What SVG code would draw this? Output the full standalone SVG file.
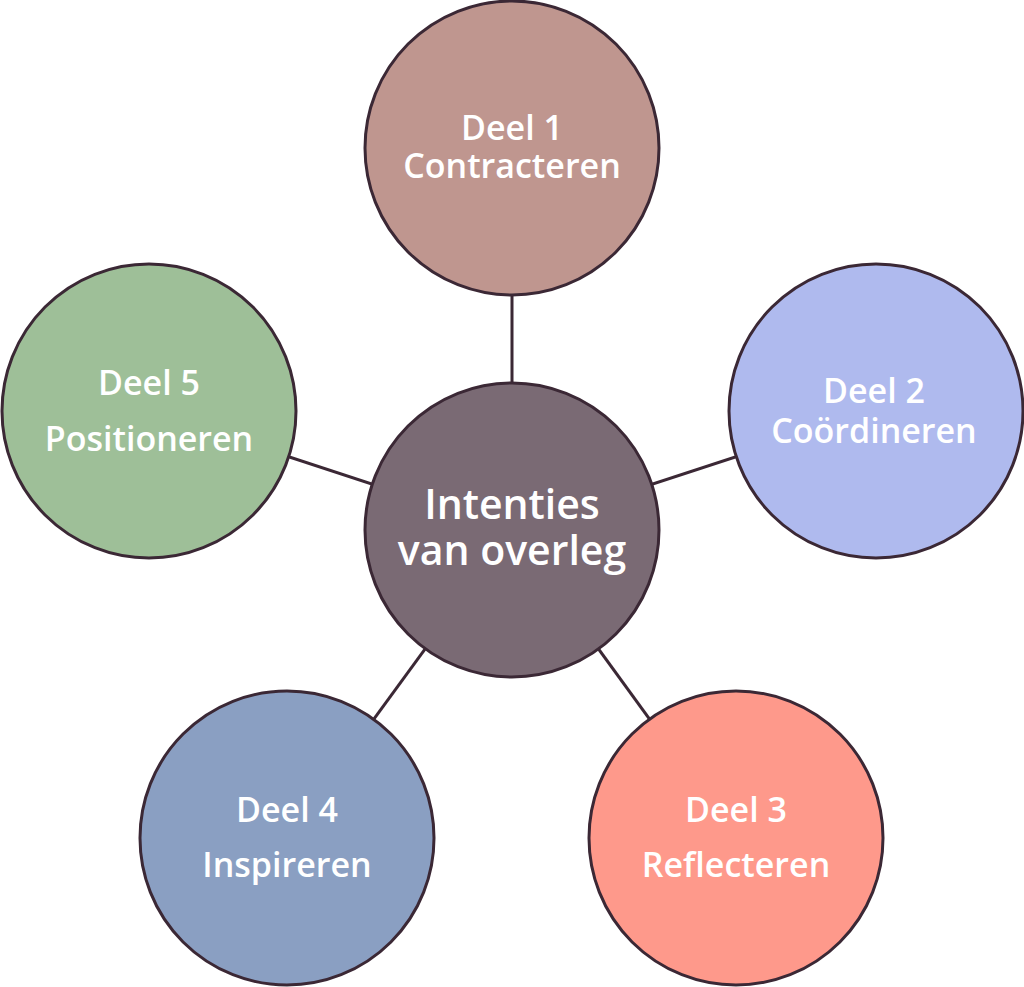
<svg xmlns="http://www.w3.org/2000/svg" width="1024" height="987" viewBox="0 0 1024 987">
<style>
.node{stroke:#3b2835;stroke-width:3}
.conn line{stroke:#3b2835;stroke-width:3}
text{font-family:"Open Sans","Noto Sans",sans-serif;font-weight:600;fill:#ffffff;text-anchor:middle;font-size:34px}
.big{font-size:41px}
</style>
<rect width="1024" height="987" fill="#ffffff"/>
<g id="connectors" class="conn">
<line x1="512" y1="530" x2="512" y2="148"/>
<line x1="512" y1="530" x2="876" y2="411"/>
<line x1="512" y1="530" x2="736" y2="838"/>
<line x1="512" y1="530" x2="287" y2="838"/>
<line x1="512" y1="530" x2="149" y2="411"/>
</g>
<g id="deel1">
<circle class="node" cx="512" cy="148" r="147" fill="#bf968f"/>
<text x="512" y="140">Deel 1</text>
<text x="512" y="178">Contracteren</text>
</g>
<g id="deel2">
<circle class="node" cx="876" cy="411" r="147" fill="#afbaee"/>
<text x="874" y="403">Deel 2</text>
<text x="874" y="443">Coördineren</text>
</g>
<g id="deel3">
<circle class="node" cx="736" cy="838" r="147" fill="#fe998b"/>
<text x="736" y="822">Deel 3</text>
<text x="736" y="877">Reflecteren</text>
</g>
<g id="deel4">
<circle class="node" cx="287" cy="838" r="147" fill="#8a9fc2"/>
<text x="287" y="822">Deel 4</text>
<text x="287" y="877">Inspireren</text>
</g>
<g id="deel5">
<circle class="node" cx="149" cy="411" r="147" fill="#9ebf98"/>
<text x="149" y="395">Deel 5</text>
<text x="149" y="451">Positioneren</text>
</g>
<g id="center">
<circle class="node" cx="512" cy="530" r="147" fill="#7a6a74"/>
<text class="big" x="512" y="519">Intenties</text>
<text class="big" x="512" y="565">van overleg</text>
</g>
</svg>
